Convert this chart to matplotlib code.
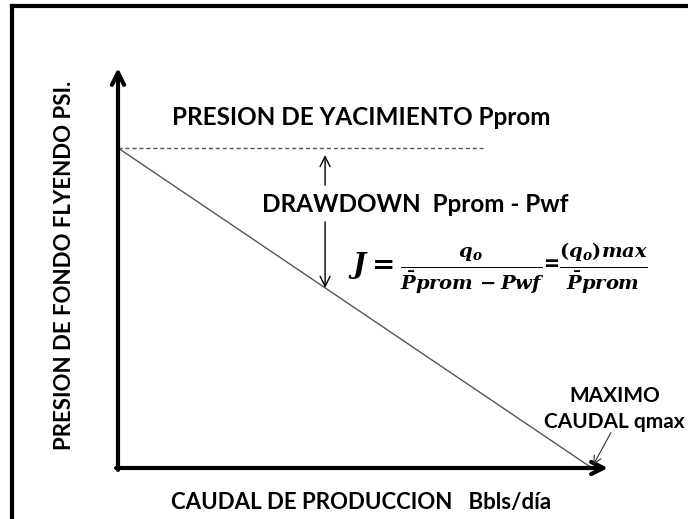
import matplotlib.pyplot as plt

plt.rcParams['font.family'] = ['Lato', 'DejaVu Sans']
plt.rcParams['font.weight'] = 'bold'
plt.rcParams['mathtext.fontset'] = 'custom'
plt.rcParams['mathtext.it'] = 'DejaVu Serif:italic:bold'
plt.rcParams['mathtext.rm'] = 'DejaVu Serif:bold'
plt.rcParams['mathtext.bf'] = 'DejaVu Serif:bold'

# esquema IPR lineal (valores normalizados)
caudal = [0.0, 1.0]        # q / qmax
presion = [1.0, 0.0]       # Pwf / Pprom
p_prom = 1.0
q_dashed_end = 0.77        # fin de la linea de Pprom
q_drawdown = 0.437         # donde se marca el drawdown

fig = plt.figure(figsize=(6.88, 5.19), dpi=100)

# marco (solo borde superior e izquierdo)
frame = fig.add_axes([12 / 688, 0, 1, 513 / 519])
frame.set_xticks([])
frame.set_yticks([])
for s in ['right', 'bottom']:
    frame.spines[s].set_visible(False)
for s in ['left', 'top']:
    frame.spines[s].set_linewidth(3)

ax = fig.add_axes([118 / 688, 51 / 519, 490 / 688, 400 / 519])
ax.set_xlim(0, 1.034)
ax.set_ylim(0, 1.25)
ax.axis('off')
ax.patch.set_alpha(0)

# ejes con flecha
ax.annotate('', xy=(1.034, 0), xytext=(-0.004, 0), annotation_clip=False,
            arrowprops=dict(arrowstyle='->', lw=3, color='black', mutation_scale=22,
                            shrinkA=0, shrinkB=0))
ax.annotate('', xy=(0, 1.25), xytext=(0, -0.006), annotation_clip=False,
            arrowprops=dict(arrowstyle='->', lw=3, color='black', mutation_scale=22,
                            shrinkA=0, shrinkB=0))

# recta IPR y presion promedio
ax.plot(caudal, presion, color='#555555', lw=1)
ax.plot([0, q_dashed_end], [p_prom, p_prom], color='#555555', lw=1, ls=(0, (3, 2)))

# flechas de drawdown
p_linea = 1.0 - q_drawdown
ax.annotate('', xy=(q_drawdown, 0.978), xytext=(q_drawdown, 0.884),
            arrowprops=dict(arrowstyle='->', lw=1, color='black', mutation_scale=18,
                            shrinkA=0, shrinkB=0))
ax.annotate('', xy=(q_drawdown, p_linea), xytext=(q_drawdown, 0.769),
            arrowprops=dict(arrowstyle='->', lw=1, color='black', mutation_scale=18,
                            shrinkA=0, shrinkB=0))

ax.text(0.114, 1.094, 'PRESION DE YACIMIENTO Pprom', fontsize=17.5, fontweight='bold',
        va='center', ha='left')
ax.text(0.304, 0.822, 'DRAWDOWN  Pprom - Pwf', fontsize=17.5, fontweight='bold',
        va='center', ha='left')
ax.text(0.485, 0.625,
        r'$J = \frac{q_o}{\bar{P}prom\,-Pwf}$' + '=' + r'$\frac{(q_o)max}{\bar{P}prom}$',
        fontsize=20, va='center', ha='left')

ax.text(1.048, 0.185, 'MAXIMO\nCAUDAL qmax', fontsize=15, fontweight='bold',
        va='center', ha='center', multialignment='center', linespacing=1.35)
ax.annotate('', xy=(caudal[1] + 0.003, 0.01), xytext=(1.04, 0.11),
            annotation_clip=False,
            arrowprops=dict(arrowstyle='->', lw=0.8, color='#333333', mutation_scale=14,
                            shrinkA=0, shrinkB=0))

fig.text(361 / 688, 1 - 502 / 519, 'CAUDAL DE PRODUCCION   Bbls/día', fontsize=16,
         fontweight='bold', ha='center', va='center')
fig.text(65 / 688, 1 - 265 / 519, 'PRESION DE FONDO FLYENDO PSI.', fontsize=16,
         fontweight='bold', ha='center', va='center', rotation=90)

fig.savefig('out.png', dpi=100)
